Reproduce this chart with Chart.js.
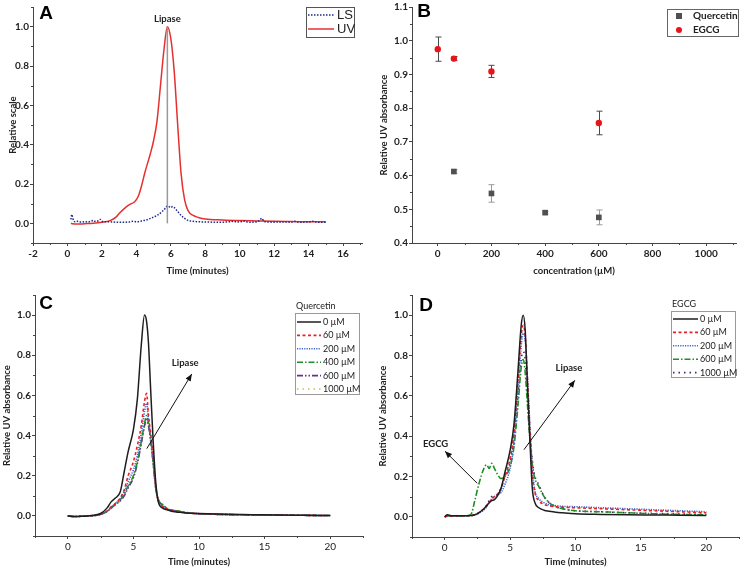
<!DOCTYPE html>
<html>
<head>
<meta charset="utf-8">
<script src="https://cdn.jsdelivr.net/npm/chart.js@4.4.1/dist/chart.umd.min.js"></script>
<style>
  html, body { margin: 0; padding: 0; background: #fff; }
  #wrap { position: relative; width: 740px; height: 568px; }
  canvas { position: absolute; }
</style>
</head>
<body>
<div id="wrap">
  <canvas id="chartA" width="370" height="285" style="left:0;top:0"></canvas>
  <canvas id="chartB" width="370" height="285" style="left:370px;top:0"></canvas>
  <canvas id="chartC" width="370" height="284" style="left:0;top:284px"></canvas>
  <canvas id="chartD" width="370" height="284" style="left:370px;top:284px"></canvas>
</div>
<script>
// ---- panel A : LS / UV traces
var aTime = [0.2, 0.3, 0.5, 1, 1.5, 2, 2.5, 2.8, 3.0, 3.3, 3.6, 3.9, 4.1, 4.3, 4.5, 4.8, 5.0, 5.2, 5.4, 5.6, 5.8, 6.0, 6.2, 6.4, 6.6, 6.8, 7.0, 7.3, 7.6, 8, 9, 10, 11, 12, 13, 14, 15];
var aUV = [0.0, -0.002, -0.004, -0.002, 0.0, 0.005, 0.015, 0.03, 0.05, 0.075, 0.095, 0.11, 0.135, 0.19, 0.26, 0.35, 0.42, 0.52, 0.7, 0.88, 1.0, 0.94, 0.77, 0.5, 0.25, 0.12, 0.065, 0.04, 0.03, 0.022, 0.017, 0.014, 0.012, 0.01, 0.009, 0.008, 0.008];
var aLSTime = [0.2, 0.25, 0.3, 0.35, 0.45, 0.6, 0.8, 1.0, 1.2, 1.4, 1.5, 1.6, 1.8, 1.9, 2.0, 2.4, 2.8, 3.2, 3.6, 3.8, 4.0, 4.3, 4.6, 4.9, 5.2, 5.5, 5.7, 5.8, 5.9, 6.0, 6.1, 6.2, 6.4, 6.6, 6.8, 7.0, 7.3, 7.6, 8, 8.5, 9, 9.4, 9.5, 10, 10.2, 10.5, 11, 11.3, 11.4, 12, 12.5, 13, 13.2, 13.5, 14, 14.2, 14.5, 15];
var aLS = [0.02, 0.045, 0.03, 0.015, 0.008, 0.01, 0.006, 0.008, 0.007, 0.012, 0.015, 0.01, 0.013, 0.02, 0.01, 0.008, 0.006, 0.006, 0.007, 0.01, 0.008, 0.012, 0.018, 0.028, 0.04, 0.06, 0.078, 0.088, 0.085, 0.08, 0.085, 0.08, 0.06, 0.04, 0.025, 0.015, 0.01, 0.008, 0.007, 0.006, 0.006, 0.008, 0.01, 0.007, 0.012, 0.006, 0.007, 0.025, 0.01, 0.006, 0.007, 0.006, 0.01, 0.006, 0.007, 0.01, 0.006, 0.006];
var aXTicks = [-2, 0, 2, 4, 6, 8, 10, 12, 14, 16];
var aYTicks = [0.0, 0.2, 0.4, 0.6, 0.8, 1.0];

// ---- panel B : relative UV absorbance vs concentration
var bConc = [0, 60, 200, 400, 600];
var bQuercetin = [null, 0.612, 0.547, 0.490, 0.476];
var bQuercetinErr = [null, 0.005, 0.026, 0.004, 0.022];
var bEGCG = [0.975, 0.947, 0.909, null, 0.756];
var bEGCGErr = [0.036, 0.006, 0.018, null, 0.035];
var bXTicks = [0, 200, 400, 600, 800, 1000];
var bYTicks = [0.4, 0.5, 0.6, 0.7, 0.8, 0.9, 1.0, 1.1];

// ---- panel C : quercetin series
var cTime = [0, 0.5, 1, 1.5, 2, 2.5, 3, 3.3, 3.6, 4.0, 4.3, 4.6, 5.0, 5.3, 5.6, 5.85, 6.0, 6.15, 6.3, 6.5, 6.7, 6.9, 7.2, 7.6, 8, 8.5, 9, 10, 12, 14, 16, 18, 20];
var cLabels = ['0 µM', '60 µM', '200 µM', '400 µM', '600 µM', '1000 µM'];
var cQ0 =    [0, -0.003, -0.002, 0, 0.003, 0.012, 0.04, 0.07, 0.088, 0.12, 0.22, 0.32, 0.43, 0.58, 0.85, 1.0, 0.97, 0.86, 0.65, 0.38, 0.17, 0.07, 0.04, 0.03, 0.022, 0.018, 0.015, 0.012, 0.008, 0.006, 0.004, 0.003, 0.002];
var cQ60 =   [0, -0.003, -0.002, 0, 0.002, 0.008, 0.025, 0.045, 0.06, 0.09, 0.13, 0.2, 0.27, 0.35, 0.45, 0.57, 0.61, 0.5, 0.42, 0.3, 0.15, 0.075, 0.05, 0.032, 0.026, 0.02, 0.016, 0.011, 0.007, 0.005, 0.004, 0.003, 0.002];
var cQ200 =  [0, -0.003, -0.002, 0, 0.002, 0.008, 0.024, 0.042, 0.06, 0.085, 0.12, 0.17, 0.23, 0.3, 0.41, 0.52, 0.56, 0.48, 0.4, 0.28, 0.14, 0.075, 0.05, 0.032, 0.026, 0.02, 0.016, 0.011, 0.007, 0.005, 0.004, 0.003, 0.002];
var cQ400 =  [0, -0.003, -0.002, 0, 0.002, 0.008, 0.023, 0.04, 0.058, 0.08, 0.11, 0.15, 0.2, 0.27, 0.37, 0.46, 0.5, 0.46, 0.39, 0.27, 0.14, 0.08, 0.06, 0.035, 0.028, 0.024, 0.017, 0.011, 0.007, 0.005, 0.004, 0.003, 0.002];
var cQ600 =  [0, -0.003, -0.002, 0, 0.002, 0.008, 0.022, 0.038, 0.055, 0.075, 0.1, 0.14, 0.19, 0.26, 0.36, 0.45, 0.48, 0.45, 0.38, 0.27, 0.14, 0.08, 0.055, 0.035, 0.028, 0.022, 0.016, 0.011, 0.007, 0.005, 0.004, 0.003, 0.002];
var cQ1000 = [0, -0.003, -0.002, 0, 0.002, 0.008, 0.022, 0.038, 0.055, 0.075, 0.1, 0.145, 0.2, 0.27, 0.36, 0.44, 0.47, 0.44, 0.38, 0.27, 0.14, 0.08, 0.055, 0.035, 0.028, 0.022, 0.016, 0.011, 0.007, 0.005, 0.004, 0.003, 0.002];
var cdXTicks = [0, 5, 10, 15, 20];
var cdYTicks = [0.0, 0.2, 0.4, 0.6, 0.8, 1.0];

// ---- panel D : EGCG series
var dTime = [0, 0.2, 0.5, 1, 1.5, 2, 2.3, 2.6, 3.0, 3.2, 3.4, 3.6, 3.8, 4.0, 4.3, 4.6, 5.0, 5.3, 5.6, 5.85, 6.0, 6.15, 6.3, 6.5, 6.7, 6.9, 7.2, 7.6, 8, 8.5, 9, 10, 12, 14, 16, 18, 20];
var dLabels = ['0 µM', '60 µM', '200 µM', '600 µM', '1000 µM'];
var dE0 =    [0, 0.01, 0.005, 0.005, 0.005, 0.006, 0.01, 0.02, 0.04, 0.055, 0.07, 0.08, 0.085, 0.1, 0.14, 0.22, 0.33, 0.46, 0.72, 0.95, 1.0, 0.93, 0.7, 0.4, 0.14, 0.07, 0.045, 0.033, 0.028, 0.023, 0.02, 0.015, 0.012, 0.01, 0.009, 0.008, 0.007];
var dE60 =   [0, 0.005, 0.005, 0.005, 0.005, 0.006, 0.01, 0.02, 0.04, 0.055, 0.07, 0.09, 0.1, 0.11, 0.14, 0.2, 0.29, 0.42, 0.68, 0.9, 0.95, 0.9, 0.72, 0.45, 0.22, 0.12, 0.08, 0.062, 0.055, 0.05, 0.048, 0.045, 0.04, 0.035, 0.03, 0.025, 0.02];
var dE200 =  [0, 0.005, 0.005, 0.005, 0.005, 0.006, 0.01, 0.018, 0.035, 0.05, 0.07, 0.09, 0.1, 0.11, 0.12, 0.16, 0.24, 0.37, 0.62, 0.85, 0.91, 0.88, 0.72, 0.47, 0.24, 0.13, 0.09, 0.07, 0.06, 0.055, 0.052, 0.05, 0.045, 0.04, 0.035, 0.03, 0.025];
var dE600 =  [0, 0.005, 0.005, 0.005, 0.005, 0.012, 0.08, 0.16, 0.24, 0.258, 0.24, 0.265, 0.24, 0.215, 0.19, 0.2, 0.25, 0.35, 0.55, 0.74, 0.78, 0.72, 0.58, 0.4, 0.26, 0.19, 0.15, 0.1, 0.07, 0.05, 0.04, 0.03, 0.025, 0.02, 0.015, 0.012, 0.01];
var dE1000 = [0, 0.005, 0.005, 0.005, 0.005, 0.006, 0.01, 0.02, 0.04, 0.055, 0.08, 0.1, 0.105, 0.11, 0.14, 0.2, 0.27, 0.4, 0.6, 0.78, 0.82, 0.78, 0.62, 0.42, 0.28, 0.2, 0.16, 0.1, 0.07, 0.05, 0.04, 0.03, 0.025, 0.02, 0.017, 0.014, 0.012];

var FONT = 'Lato, "Open Sans", sans-serif';
var INK = '#222';

function pts(xs, ys) {
    return xs.map(function(x, i) { return { x: x, y: ys[i] }; });
}

function lineSet(label, xs, ys, color, dash, width) {
    return {
        label: label, data: pts(xs, ys), borderColor: color, backgroundColor: color,
        borderDash: dash, borderWidth: width || 1.5, pointRadius: 0,
        showLine: true, cubicInterpolationMode: 'monotone', fill: false
    };
}

// axes in the Origin style: left + bottom lines, outward ticks
function axes(o) {
    return {
        x: {
            type: 'linear', min: o.xMin, max: o.xMax,
            afterBuildTicks: function(s) { s.ticks = o.xTicks.map(function(v) { return { value: v }; }); },
            afterFit: function(s) { s.height = o.xH; },
            grid: { display: true, drawOnChartArea: false, drawTicks: true, tickLength: 3, color: '#444' },
            border: { display: true, color: '#444', width: 1 },
            ticks: { color: INK, padding: 2, font: { family: FONT, size: 10, weight: o.xBold ? 'bold' : 'normal' },
                     callback: function(v) { return String(v); } },
            title: { display: true, text: o.xTitle, color: INK, padding: { top: 2, bottom: 0 },
                     font: { family: FONT, size: 9.5, weight: 'bold' } }
        },
        y: {
            type: 'linear', min: o.yMin, max: o.yMax,
            afterBuildTicks: function(s) { s.ticks = o.yTicks.map(function(v) { return { value: v }; }); },
            afterFit: function(s) { s.width = o.yW; },
            grid: { display: true, drawOnChartArea: false, drawTicks: true, tickLength: 3, color: '#444' },
            border: { display: true, color: '#444', width: 1 },
            ticks: { color: INK, padding: 1, font: { family: FONT, size: 10, weight: 'bold' },
                     callback: function(v) { return v.toFixed(1); } },
            title: { display: true, text: o.yTitle, color: INK, padding: { top: o.yTitlePad, bottom: 2 },
                     font: { family: FONT, size: 9.5, weight: 'bold' } }
        }
    };
}

var minorTicks = {
    id: 'minorTicks',
    afterDraw: function(chart, args, opts) {
        var ctx = chart.ctx, xs = chart.scales.x, ys = chart.scales.y;
        ctx.save();
        ctx.strokeStyle = '#444';
        ctx.lineWidth = 1;
        (opts.x || []).forEach(function(v) {
            var px = Math.round(xs.getPixelForValue(v)) + 0.5;
            ctx.beginPath(); ctx.moveTo(px, ys.bottom); ctx.lineTo(px, ys.bottom + 2); ctx.stroke();
        });
        (opts.y || []).forEach(function(v) {
            var py = Math.round(ys.getPixelForValue(v)) + 0.5;
            ctx.beginPath(); ctx.moveTo(xs.left, py); ctx.lineTo(xs.left - 2, py); ctx.stroke();
        });
        ctx.restore();
    }
};

var errorBars = {
    id: 'errorBars',
    beforeDatasetsDraw: function(chart) {
        var ctx = chart.ctx, xs = chart.scales.x, ys = chart.scales.y;
        ctx.save();
        chart.data.datasets.forEach(function(ds) {
            if (!ds.errors) return;
            ctx.strokeStyle = ds.errorColor;
            ctx.lineWidth = 1;
            ds.data.forEach(function(p, i) {
                var e = ds.errors[i];
                if (p.y === null || e === null) return;
                var px = Math.round(xs.getPixelForValue(p.x)) + 0.5;
                var top = ys.getPixelForValue(p.y + e), bot = ys.getPixelForValue(p.y - e);
                ctx.beginPath();
                ctx.moveTo(px, top); ctx.lineTo(px, bot);
                ctx.moveTo(px - 3, top); ctx.lineTo(px + 3, top);
                ctx.moveTo(px - 3, bot); ctx.lineTo(px + 3, bot);
                ctx.stroke();
            });
        });
        ctx.restore();
    }
};

function arrowHead(ctx, x1, y1, x2, y2) {
    var a = Math.atan2(y2 - y1, x2 - x1), L = 7, W = 3;
    ctx.beginPath();
    ctx.moveTo(x2, y2);
    ctx.lineTo(x2 - L * Math.cos(a) + W * Math.sin(a), y2 - L * Math.sin(a) - W * Math.cos(a));
    ctx.lineTo(x2 - L * Math.cos(a) - W * Math.sin(a), y2 - L * Math.sin(a) + W * Math.cos(a));
    ctx.closePath();
    ctx.fill();
}

// notes: lines/arrows and texts in data units, the panel letter in pixels
var notes = {
    id: 'notes',
    afterDatasetsDraw: function(chart, args, opts) {
        var ctx = chart.ctx, xs = chart.scales.x, ys = chart.scales.y;
        ctx.save();
        (opts.lines || []).forEach(function(l) {
            var x1 = xs.getPixelForValue(l.x1), y1 = ys.getPixelForValue(l.y1);
            var x2 = xs.getPixelForValue(l.x2), y2 = ys.getPixelForValue(l.y2);
            ctx.strokeStyle = l.color; ctx.fillStyle = l.color; ctx.lineWidth = l.width || 1;
            ctx.beginPath(); ctx.moveTo(x1, y1); ctx.lineTo(x2, y2); ctx.stroke();
            if (l.arrow) arrowHead(ctx, x1, y1, x2, y2);
        });
        ctx.fillStyle = INK;
        ctx.textAlign = 'center';
        ctx.textBaseline = 'middle';
        (opts.texts || []).forEach(function(t) {
            ctx.font = 'bold 9.5px ' + FONT;
            ctx.fillText(t.text, xs.getPixelForValue(t.x), ys.getPixelForValue(t.y));
        });
        if (opts.letter) {
            ctx.font = 'bold 19px "Liberation Sans", Arial, sans-serif';
            ctx.fillStyle = '#000';
            ctx.fillText(opts.letter.text, opts.letter.x, opts.letter.y);
        }
        ctx.restore();
    }
};

// framed legend drawn from the datasets' own styles
var boxLegend = {
    id: 'boxLegend',
    afterDraw: function(chart, args, o) {
        var ctx = chart.ctx;
        ctx.save();
        if (o.title) {
            ctx.font = o.font; ctx.fillStyle = INK; ctx.textAlign = 'left'; ctx.textBaseline = 'middle';
            ctx.fillText(o.title, o.x + 1, o.y - 7);
        }
        ctx.strokeStyle = o.frame; ctx.lineWidth = 1;
        ctx.strokeRect(o.x + 0.5, o.y + 0.5, o.w, o.h);
        chart.data.datasets.forEach(function(ds, i) {
            var cy = o.y + o.first + i * o.rowH;
            if (o.marker) {
                ctx.fillStyle = ds.backgroundColor;
                ctx.beginPath();
                if (ds.pointStyle === 'rect') ctx.rect(o.x + o.sx - 3, cy - 3, 6, 6);
                else ctx.arc(o.x + o.sx, cy, 3, 0, Math.PI * 2);
                ctx.fill();
            } else {
                ctx.strokeStyle = ds.borderColor; ctx.lineWidth = ds.borderWidth;
                ctx.setLineDash(ds.borderDash || []);
                ctx.beginPath(); ctx.moveTo(o.x + 2, cy); ctx.lineTo(o.x + o.sx, cy); ctx.stroke();
                ctx.setLineDash([]);
            }
            ctx.font = o.font; ctx.fillStyle = INK; ctx.textAlign = 'left'; ctx.textBaseline = 'middle';
            ctx.fillText(ds.label, o.x + o.tx, cy);
        });
        ctx.restore();
    }
};

Chart.register(minorTicks, errorBars, notes, boxLegend);

function baseOptions(o, pad, plugins) {
    plugins.legend = { display: false };
    plugins.tooltip = { enabled: false };
    return {
        responsive: false, animation: false, devicePixelRatio: 1,
        layout: { padding: pad },
        scales: axes(o),
        plugins: plugins
    };
}

// ---- A
new Chart(document.getElementById('chartA'), {
    type: 'scatter',
    data: { datasets: [
        lineSet('LS', aLSTime, aLS, '#1c2a8a', [1.5, 1.5], 1.5),
        lineSet('UV', aTime, aUV, '#e63030', [], 1.5)
    ] },
    options: baseOptions(
        { xMin: -2, xMax: 17.1, xTicks: aXTicks, xH: 34, xBold: true, xTitle: 'Time (minutes)',
          yMin: -0.1, yMax: 1.1, yTicks: aYTicks, yW: 33, yTitle: 'Relative scale', yTitlePad: 7 },
        { left: 0, right: 8, top: 0, bottom: 8 },
        {
            minorTicks: { x: [-1, 1, 3, 5, 7, 9, 11, 13, 15, 17], y: [-0.1, 0.1, 0.3, 0.5, 0.7, 0.9, 1.1] },
            notes: { lines: [{ x1: 5.8, y1: 0, x2: 5.8, y2: 1.0, color: '#9a9a9a', width: 1.5 }],
                     texts: [{ x: 5.8, y: 1.04, text: 'Lipase' }],
                     letter: { text: 'A', x: 46, y: 14 } },
            boxLegend: { x: 306, y: 7, w: 48, h: 30, first: 8, rowH: 14, sx: 28, tx: 31,
                         font: '13px "Liberation Sans", Arial, sans-serif', frame: '#555' }
        })
});

// ---- B
new Chart(document.getElementById('chartB'), {
    type: 'scatter',
    data: { datasets: [
        { label: 'Quercetin', data: pts(bConc, bQuercetin), errors: bQuercetinErr, errorColor: '#9a9a9a',
          pointStyle: 'rect', pointRadius: 4, backgroundColor: '#505050', borderColor: '#505050', borderWidth: 0 },
        { label: 'EGCG', data: pts(bConc, bEGCG), errors: bEGCGErr, errorColor: '#4a4a4a',
          pointStyle: 'circle', pointRadius: 3.2, backgroundColor: '#e8141c', borderColor: '#e8141c', borderWidth: 0 }
    ] },
    options: baseOptions(
        { xMin: -96, xMax: 1111, xTicks: bXTicks, xH: 34, xBold: true, xTitle: 'concentration (µM)',
          yMin: 0.4, yMax: 1.1, yTicks: bYTicks, yW: 42, yTitle: 'Relative UV absorbance', yTitlePad: 8 },
        { left: 0, right: 2, top: 0, bottom: 8 },
        {
            minorTicks: { x: [100, 300, 500, 700, 900, 1100], y: [0.45, 0.55, 0.65, 0.75, 0.85, 0.95, 1.05] },
            notes: { letter: { text: 'B', x: 54, y: 12 } },
            boxLegend: { x: 297, y: 9, w: 71, h: 27, first: 7, rowH: 14, sx: 12, tx: 26, marker: true,
                         font: 'bold 10px ' + FONT, frame: '#666' }
        })
});

// ---- C
var cStyles = [['#1e1e1e', []], ['#e8202a', [3, 2.5]], ['#3a66cc', [1.2, 1.2]], ['#1f8f2a', [6, 2, 1.5, 2]],
               ['#6b2e90', [6, 2, 1.5, 2, 1.5, 2]], ['#c8c050', [1.5, 4]]];
var cSeries = [cQ0, cQ60, cQ200, cQ400, cQ600, cQ1000];
new Chart(document.getElementById('chartC'), {
    type: 'scatter',
    data: { datasets: cSeries.map(function(s, i) {
        return lineSet(cLabels[i], cTime, s, cStyles[i][0], cStyles[i][1], i === 0 ? 1.5 : 1.6);
    }) },
    options: baseOptions(
        { xMin: -2.5, xMax: 22.5, xTicks: cdXTicks, xH: 32, xBold: false, xTitle: 'Time (minutes)',
          yMin: -0.1, yMax: 1.1, yTicks: cdYTicks, yW: 35, yTitle: 'Relative UV absorbance', yTitlePad: 1 },
        { left: 0, right: 7, top: 11, bottom: 0 },
        {
            minorTicks: { x: [-2.5, 2.5, 7.5, 12.5, 17.5, 22.5], y: [-0.1, 0.1, 0.3, 0.5, 0.7, 0.9, 1.1] },
            notes: { lines: [{ x1: 6.02, y1: 0.335, x2: 9.45, y2: 0.707, color: '#111', arrow: true }],
                     texts: [{ x: 8.95, y: 0.76, text: 'Lipase' }],
                     letter: { text: 'C', x: 46, y: 20 } },
            boxLegend: { x: 295, y: 29, w: 64, h: 81, first: 9, rowH: 13.4, sx: 26, tx: 28, title: 'Quercetin',
                         font: '9px ' + FONT, frame: '#999' }
        })
});

// ---- D
var dStyles = [['#1e1e1e', []], ['#e8202a', [3, 2.5]], ['#3a66cc', [1.2, 1.2]], ['#1f8f2a', [6, 2, 1.5, 2]],
               ['#4a2a6a', [1.5, 4]]];
var dSeries = [dE0, dE60, dE200, dE600, dE1000];
new Chart(document.getElementById('chartD'), {
    type: 'scatter',
    data: { datasets: dSeries.map(function(s, i) {
        return lineSet(dLabels[i], dTime, s, dStyles[i][0], dStyles[i][1], i === 0 ? 1.5 : 1.6);
    }) },
    options: baseOptions(
        { xMin: -2.5, xMax: 22.5, xTicks: cdXTicks, xH: 31, xBold: false, xTitle: 'Time (minutes)',
          yMin: -0.1, yMax: 1.1, yTicks: cdYTicks, yW: 42, yTitle: 'Relative UV absorbance', yTitlePad: 7 },
        { left: 0, right: 1, top: 11, bottom: 0 },
        {
            minorTicks: { x: [-2.5, 2.5, 7.5, 12.5, 17.5, 22.5], y: [-0.1, 0.1, 0.3, 0.5, 0.7, 0.9, 1.1] },
            notes: { lines: [{ x1: 6.06, y1: 0.333, x2: 9.95, y2: 0.677, color: '#111', arrow: true },
                             { x1: 2.49, y1: 0.166, x2: 0.025, y2: 0.325, color: '#111', arrow: true }],
                     texts: [{ x: 9.5, y: 0.74, text: 'Lipase' }, { x: -0.7, y: 0.363, text: 'EGCG' }],
                     letter: { text: 'D', x: 56, y: 22 } },
            boxLegend: { x: 301, y: 27, w: 64, h: 66, first: 8, rowH: 13.4, sx: 27, tx: 29, title: 'EGCG',
                         font: '9px ' + FONT, frame: '#999' }
        })
});
</script>
</body>
</html>
